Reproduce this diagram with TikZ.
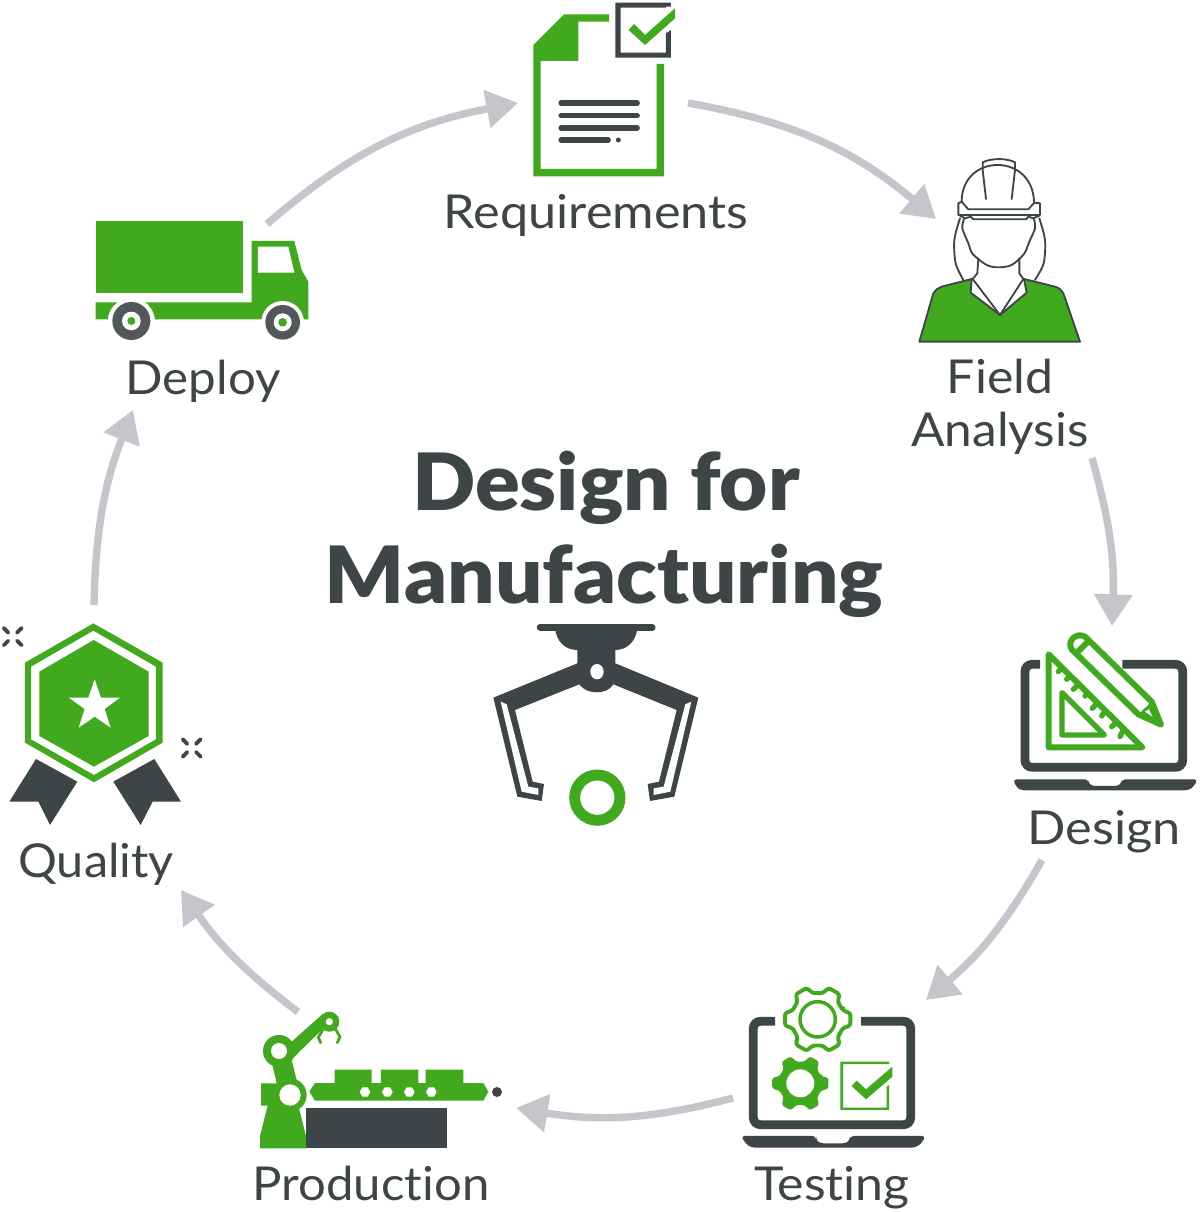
\documentclass[tikz,border=0pt]{standalone}
\usepackage{fontspec}
\setmainfont{Lato}[Ligatures=NoCommon]
\newfontfamily\ttlfont{Lato Black}[Ligatures=NoCommon]
\usetikzlibrary{arrows.meta}
\definecolor{gr}{HTML}{41A91E}
\definecolor{dk}{HTML}{3E4547}
\definecolor{wh}{HTML}{52585A}
\definecolor{ar}{HTML}{C5C6CC}
\newcommand\geartooth[2]{(-19:#2) \foreach \a in {0,60,...,300} { -- ({\a-19}:#2) -- ({\a-11}:#1) -- ({\a+11}:#1) -- ({\a+19}:#2)} -- cycle}
\newcommand\sx[2]{\scalebox{#1}[1]{#2}}
\tikzset{
  lbl/.style={text=dk,font=\fontsize{26.6}{26.6}\selectfont,anchor=base,inner sep=0pt},
  ttl/.style={text=dk,font=\fontsize{45}{45}\ttlfont,anchor=base,inner sep=0pt},
  flow/.style={ar,line width=4.2pt,-{Triangle[length=18pt,width=21pt]}},
  gfill/.style={fill=gr,draw=none},
  dfill/.style={fill=dk,draw=none},
  wfill/.style={fill=white,draw=none},
  thin outline/.style={draw=dk,line width=1.05pt,line join=round,line cap=round},
  txtline/.style={dk,line width=2.9pt,line cap=round},
  spark/.style={dk,line width=2.2pt,line cap=round},
  laptop/.style={dk,line width=5pt,rounded corners=4pt},
}
\begin{document}
\begin{tikzpicture}[x=0.02cm,y=-0.02cm]
\useasboundingbox (0,0) rectangle (1200,1212);
\fill[white] (0,0) rectangle (1200,1212);

% Labels
\node[lbl] (lreq) at (596,229) {\sx{1.078}{Requirements}};
\node[lbl] (lfield) at (1000,394) {\sx{1.07}{Field}};
\node[lbl] (lanal) at (1000,446) {\sx{1.06}{Analysis}};
\node[lbl] (ldes) at (1104,844) {\sx{1.08}{Design}};
\node[lbl] (ltest) at (832,1200) {\sx{1.07}{Testing}};
\node[lbl] (lprod) at (371,1200) {\sx{1.05}{Production}};
\node[lbl] (lqual) at (96,877) {\sx{1.04}{Quality}};
\node[lbl] (ldep) at (203,395) {\sx{1.055}{Deploy}};
\node[ttl] (t1) at (606,510) {\sx{1.052}{Design for}};
\node[ttl] (t2) at (604,603) {\sx{1.057}{Manufacturing}};

% Connector ends
\coordinate (a1) at (688,103); \coordinate (b1) at (936,219);
\coordinate (a2) at (1092,458); \coordinate (b2) at (1112,626);
\coordinate (a3) at (1042,860); \coordinate (b3) at (926,1000);
\coordinate (a4) at (733,1098); \coordinate (b4) at (516,1108);
\coordinate (a5) at (298,1012); \coordinate (b5) at (181,890);
\coordinate (a6) at (94,605); \coordinate (b6) at (133,410);
\coordinate (a7) at (267,224); \coordinate (b7) at (518,103);
\draw[flow] (a1) to[bend left=15] (b1);
\draw[flow] (a2) to[bend left=9] (b2);
\draw[flow] (a3) to[bend left=10] (b3);
\draw[flow] (a4) to[bend left=12] (b4);
\draw[flow] (a5) to[bend left=9] (b5);
\draw[flow] (a6) to[bend left=10] (b6);
\draw[flow] (a7) to[bend left=15] (b7);

% Requirements
\begin{scope}[shift={(520,0)},scale=0.3333]
\fill[gfill] (267,43) -- (132,43) -- (40,135) -- (40,529) -- (432,529) -- (432,192) -- (410,192) -- (410,507) -- (62,507) -- (62,183) -- (175,183) -- (175,65) -- (267,65) -- cycle;
\fill[dfill] (286,8) -- (453,8) -- (453,20) -- (438,20) -- (438,23) -- (302,23) -- (302,158) -- (438,158) -- (438,100) -- (453,90) -- (453,173) -- (286,173) -- cycle;
\fill[gfill] (326,90) -- (342,72) -- (375,105) -- (465,25) -- (465,55) -- (375,135) -- cycle;
\foreach \yy in {309,347,384} \draw[txtline] (123,\yy) -- (352,\yy);
\draw[txtline] (123,420) -- (265,420);
\fill[dk] (295,420) circle (7.5);
\end{scope}

% Field Analysis
\begin{scope}[shift={(900,150)},scale=0.3333]
\draw[thin outline,fill=gr] (58,575) -- (100,430) .. controls (108,418) and (115,414) .. (125,410) -- (215,387) -- (212,428) -- (300,495) -- (380,428) -- (372,387) -- (465,410) .. controls (478,414) and (485,420) .. (490,430) -- (540,575) -- cycle;
\draw[thin outline] (218,387) -- (300,495) -- (370,387);
\draw[thin outline] (235,325) -- (232,370) -- (218,387);
\draw[thin outline] (358,325) -- (358,370) -- (370,387);
\draw[thin outline] plot[smooth] coordinates {(192,207) (187,235) (205,280) (218,312) (260,345) (295,352) (335,345) (372,312) (388,275) (405,235) (402,207)};
\draw[thin outline] plot[smooth] coordinates {(180,205) (163,270) (167,340) (190,390)};
\draw[thin outline] plot[smooth] coordinates {(418,205) (435,270) (431,340) (405,390)};
\draw[thin outline] (185,155) .. controls (185,85) and (235,45) .. (293,45) .. controls (350,45) and (400,85) .. (402,155);
\draw[thin outline] (248,60) -- (248,37) .. controls (275,24) and (320,24) .. (345,37) -- (345,60);
\draw[thin outline] (248,60) -- (258,147);
\draw[thin outline] (345,60) -- (335,147);
\draw[thin outline] (175,160) -- (175,195) -- (420,195) -- (420,160) -- (403,158) -- (385,178) -- (205,178) -- (185,155) -- cycle;
\draw[thin outline] (180,197) -- (195,205) -- (212,200) -- (220,208) -- (378,208) -- (385,200) -- (400,205) -- (418,197);
\end{scope}

% Design
\begin{scope}[shift={(1005,620)},scale=0.3333]
\draw[laptop] (105,133) -- (60,133) -- (60,442) -- (533,442) -- (533,133) -- (352,133);
\fill[dfill,rounded corners=2pt] (24,478) -- (250,478) -- (250,490) -- (262,498) -- (338,498) -- (350,490) -- (350,478) -- (578,478) -- (566,500) -- (550,511) -- (50,511) -- (35,503) -- cycle;
\draw[white,line width=10pt,line cap=round] (205,85) -- (400,275);
\draw[gr,line width=3.4pt,line join=round] (131,103) -- (131,382) -- (412,382) -- cycle;
\draw[gr,line width=3pt,line join=round] (171,218) -- (171,345) -- (298,345) -- cycle;
\foreach \xa/\ya/\xb/\yb in {170/144/160/155,195/169/185/178,220/194/205/208,247/221/240/228,276/250/262/265,300/274/290/288,334/308/320/320,355/329/345/350}
  \draw[gr,line width=3pt,line cap=round] (\xa,\ya) -- (\xb,\yb);
\draw[gr,line width=3.4pt,line join=round,fill=white] (200,88) .. controls (185,65) and (212,35) .. (240,50) -- (440,245) -- (468,314) -- (400,283) -- cycle;
\draw[gr,line width=3.4pt] (212,102) -- (252,62);
\fill[gfill] (400,283) -- (440,245) -- (468,314) -- cycle;
\fill[wfill] (420,275) -- (442,290) -- (432,268) -- cycle;
\end{scope}

% Testing
\begin{scope}[shift={(735,980)},scale=0.3333]
\draw[laptop] (120,124) -- (55,124) -- (55,434) -- (527,434) -- (527,124) -- (378,124);
\fill[dfill,rounded corners=2pt] (18,468) -- (243,468) -- (243,480) -- (255,490) -- (333,490) -- (345,480) -- (345,468) -- (572,468) -- (558,492) -- (540,503) -- (50,503) -- (33,492) -- cycle;
\begin{scope}[shift={(248,118)}]
\draw[gr,line width=2.2pt,rounded corners=1.5pt,line join=round] \geartooth{100}{80};
\draw[gr,line width=2pt] (0,0) circle (53);
\end{scope}
\begin{scope}[shift={(196,310)}]
\fill[gfill,rounded corners=1.5pt] \geartooth{86}{66};
\fill[wfill] (0,0) circle (42);
\end{scope}
\fill[gfill] (316,245) -- (462,245) -- (462,252) -- (324,252) -- (324,383) -- (455,383) -- (455,320) -- (462,315) -- (462,390) -- (316,390) -- cycle;
\fill[gfill] (350,318) -- (365,302) -- (393,328) -- (472,260) -- (472,290) -- (393,358) -- cycle;
\end{scope}

% Production
\begin{scope}[shift={(250,1000)},scale=0.3333]
\fill[dfill] (168,325) rectangle (592,445);
\fill[gfill] (30,445) -- (30,408) -- (53,317) -- (33,317) -- (33,250) -- (80,250) -- (65,185) -- (125,180) -- (140,240) -- (145,317) -- (168,408) -- (168,445) -- cycle;
\fill[gfill] (120,285) circle (50);
\fill[wfill] (120,285) circle (32);
\fill[gfill] (125,125) -- (218,42) -- (215,90) -- (125,178) -- cycle;
\fill[gfill] (87,153) circle (48);
\fill[wfill] (87,153) circle (24);
\fill[gfill] (238,65) circle (30);
\fill[wfill] (238,65) circle (11);
\draw[gr,line width=1.6pt,line cap=round,line join=round] (218,90) -- (205,112) -- (212,128);
\draw[gr,line width=1.6pt,line cap=round,line join=round] (255,85) -- (270,110) -- (262,128);
\fill[gfill] (178,275) -- (195,249) -- (254,249) -- (254,209) -- (365,209) -- (365,249) -- (393,249) -- (393,209) -- (505,209) -- (505,249) -- (527,249) -- (527,209) -- (640,209) -- (640,249) -- (700,249) -- (715,275) -- (700,302) -- (195,302) -- cycle;
\foreach \xx in {345,412,478,544} \fill[wfill] (\xx,276) ++(-16,0) -- ++(8,-14) -- ++(16,0) -- ++(8,14) -- ++(-8,14) -- ++(-16,0) -- cycle;
\fill[dk] (741,276) circle (15);
\end{scope}

% Quality
\begin{scope}[shift={(0,610)},scale=0.3333]
\fill[dfill] (108,447) -- (232,515) -- (150,645) -- (115,575) -- (28,575) -- cycle;
\fill[dfill] (463,447) -- (340,515) -- (422,645) -- (458,575) -- (543,575) -- cycle;
\fill[wfill] (281,30) -- (498,155) -- (498,402) -- (282,527) -- (65,402) -- (65,155) -- cycle;
\fill[gfill,even odd rule] (280,40) -- (488,158) -- (488,398) -- (282,517) -- (75,398) -- (75,158) -- cycle
  (280,62) -- (468,170) -- (468,388) -- (282,495) -- (93,388) -- (93,170) -- cycle;
\fill[gfill] (281,90) -- (446,185) -- (446,378) -- (282,470) -- (118,378) -- (118,185) -- cycle;
\fill[wfill] (284,208) -- (303,263) -- (360,263) -- (314,297) -- (332,353) -- (284,320) -- (236,353) -- (254,297) -- (207,263) -- (265,263) -- cycle;
\foreach \cx/\cy in {38/80,575/414} \foreach \px/\py in {1/1,1/-1,-1/1,-1/-1}
  \draw[spark] ({\cx+\px*13},{\cy+\py*12}) -- ({\cx+\px*27},{\cy+\py*26});
\end{scope}

% Deploy
\begin{scope}[shift={(85,210)},scale=0.3333]
\fill[gfill] (32,34) rectangle (474,250);
\fill[gfill] (32,277) -- (500,277) -- (500,93) -- (628,93) -- (650,180) -- (670,215) -- (670,328) -- (32,328) -- cycle;
\fill[wfill] (519,110) -- (610,110) -- (628,188) -- (519,188) -- cycle;
\fill[wfill] (139,335) circle (71);
\fill[wfill] (593,337) circle (64);
\fill[wh] (139,333) circle (57);
\fill[wfill] (139,333) circle (28);
\fill[gfill] (139,333) circle (12);
\fill[wh] (593,337) circle (52);
\fill[wfill] (593,337) circle (27);
\fill[gfill] (593,337) circle (13);
\end{scope}

% Gripper
\begin{scope}[shift={(480,615)},scale=0.3333]
\draw[dk,line width=3.7pt,line cap=round] (180,37) -- (517,37);
\fill[dfill] (225,40) .. controls (230,80) and (255,105) .. (292,105) -- (292,145) -- (40,248) -- (112,545) -- (185,558) -- (192,507) -- (158,500) -- (105,285) -- (298,208) .. controls (310,225) and (330,232) .. (350,232) .. controls (370,232) and (390,225) .. (400,208) -- (590,285) -- (537,500) -- (503,507) -- (510,558) -- (583,545) -- (655,248) -- (406,145) -- (406,105) .. controls (440,105) and (468,80) .. (472,40) -- cycle;
\fill[wfill] (62,260) -- (80,268) -- (145,515) -- (175,520) -- (175,540) -- (125,530) -- cycle;
\fill[wfill] (634,260) -- (616,268) -- (551,515) -- (521,520) -- (521,540) -- (571,530) -- cycle;
\fill[wfill] (351,170) ellipse (20 and 23);
\draw[gr,line width=6.2pt] (352,548) circle (68);
\end{scope}
\end{tikzpicture}
\end{document}
